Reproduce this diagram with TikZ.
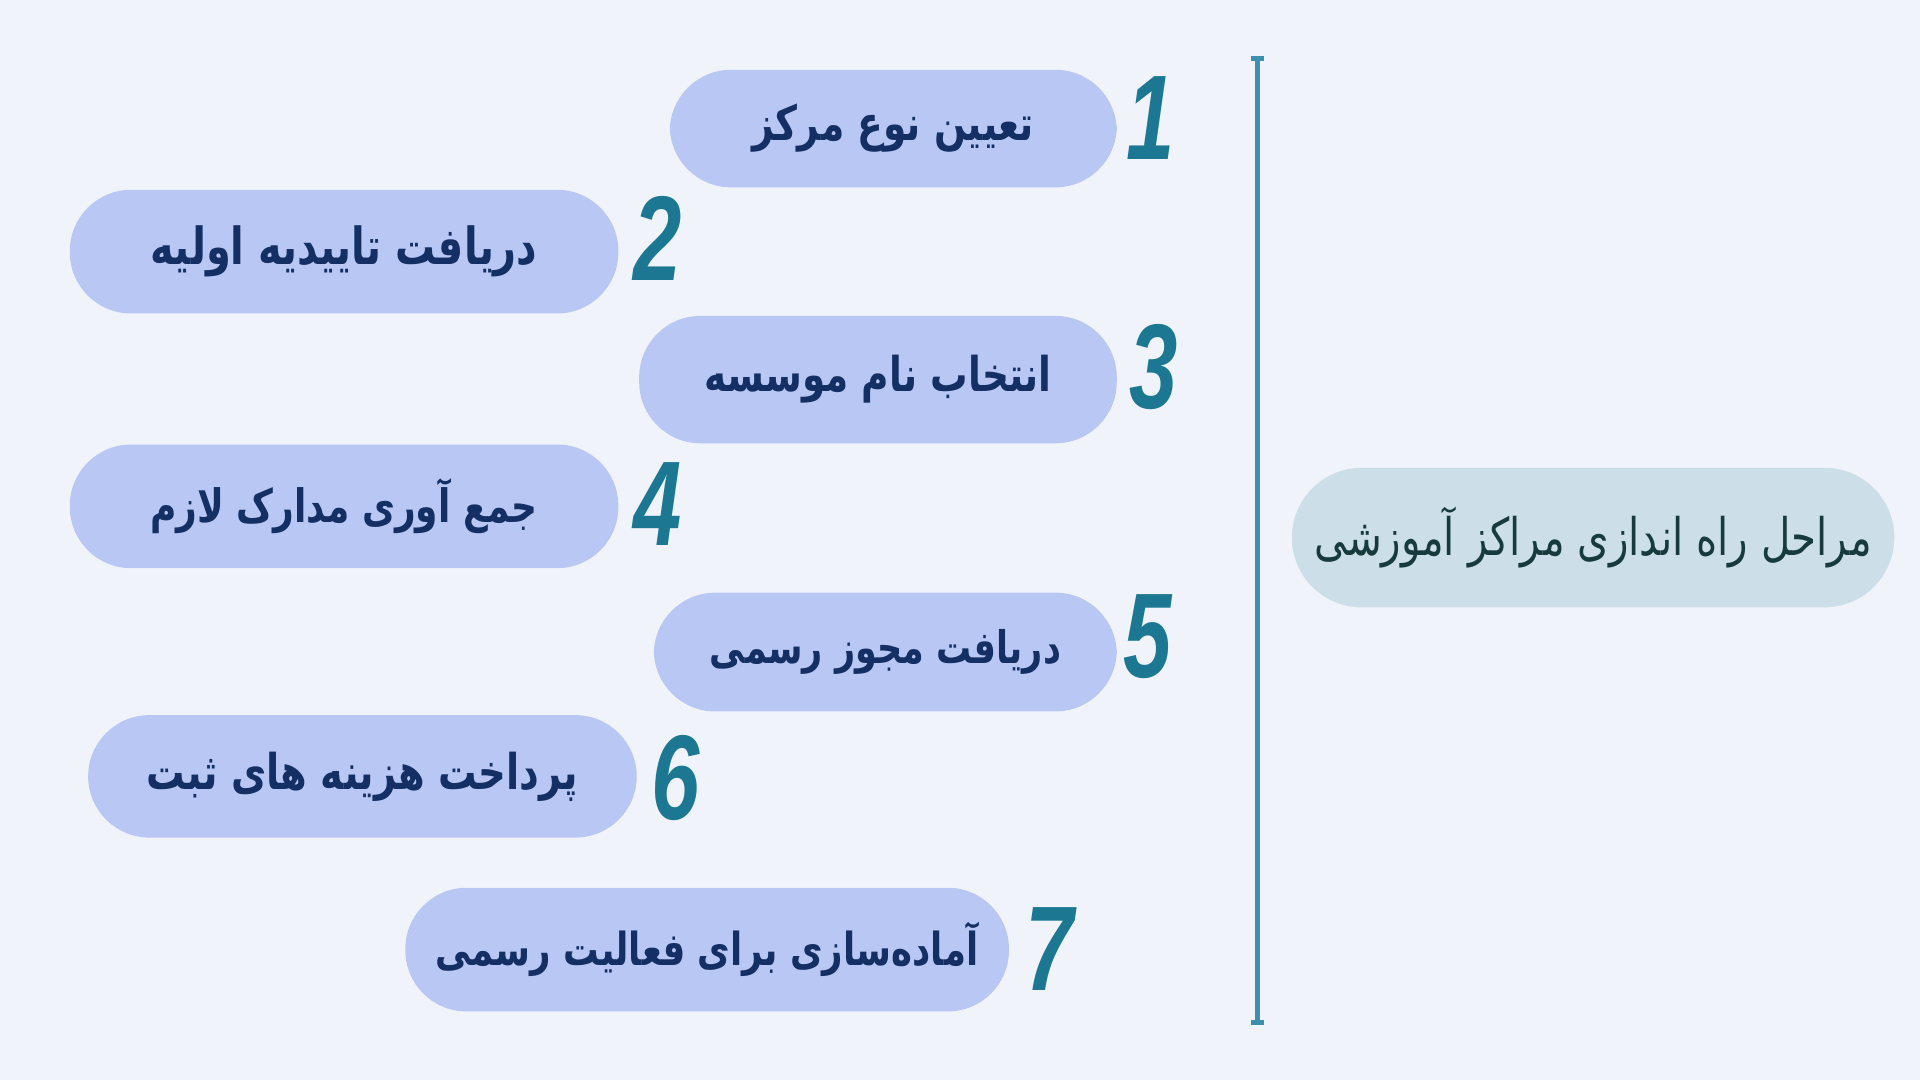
\documentclass[tikz,border=0pt]{standalone}
\usepackage{fontspec}
\usepackage{graphicx}
\setmainfont{DejaVu Sans}
\newfontfamily\arabicfont[Script=Arabic]{DejaVu Sans}
\newfontfamily\numfont{Liberation Sans}
\TeXXeTstate=1
\definecolor{bgcol}{RGB}{240,244,250}
\definecolor{pillfill}{RGB}{185,199,244}
\definecolor{titlefill}{RGB}{204,223,232}
\definecolor{pilltext}{RGB}{19,47,99}
\definecolor{titletext}{RGB}{23,58,60}
\definecolor{numcol}{RGB}{28,120,146}
\definecolor{linecol}{RGB}{61,143,174}
\newcommand{\fitbox}[2]{\scalebox{1}[1.28]{\resizebox{#1}{!}{#2}}}
\newcommand{\numtxt}[1]{\scalebox{0.72}[1]{#1}}
\tikzset{
  pill/.style={fill=pillfill, draw=none, rounded corners=0.5cm, inner sep=0pt,
    text=pilltext, font=\arabicfont\bfseries\fontsize{10}{12}\selectfont},
  titlepill/.style={fill=titlefill, draw=none, rounded corners=0.57cm, inner sep=0pt,
    minimum width=4.92cm, minimum height=1.14cm,
    text=titletext, font=\arabicfont\fontsize{10}{12}\selectfont},
  stepnum/.style={text=numcol, inner sep=0pt,
    font=\numfont\bfseries\itshape\fontsize{28}{30}\selectfont},
  sepline/.style={draw=linecol, line width=1.2pt}
}
\begin{document}
\begin{tikzpicture}
\useasboundingbox (0,0) rectangle (15.68,8.82);
\fill[bgcol] (0,0) rectangle (15.68,8.82);

% separator line
\coordinate (ltop) at (10.27,8.34);
\coordinate (lbot) at (10.27,0.47);
\draw[sepline] (ltop) -- (lbot);
\draw[sepline] ([xshift=-0.05cm]ltop) -- ([xshift=0.05cm]ltop);
\draw[sepline] ([xshift=-0.05cm]lbot) -- ([xshift=0.05cm]lbot);

% title
\node[titlepill] (title) at (13.01,4.43) {\fitbox{4.55cm}{\beginR مراحل راه اندازی مراکز آموزشی\endR}};

% steps
\node[pill, minimum width=3.65cm, minimum height=0.96cm] (s1) at (7.295,7.77) {\fitbox{2.30cm}{\beginR تعیین نوع مرکز\endR}};
\node[pill, minimum width=4.48cm, minimum height=1.01cm] (s2) at (2.81,6.765) {\fitbox{3.16cm}{\beginR دریافت تاییدیه اولیه\endR}};
\node[pill, minimum width=3.90cm, minimum height=1.04cm] (s3) at (7.17,5.72) {\fitbox{2.83cm}{\beginR انتخاب نام موسسه\endR}};
\node[pill, minimum width=4.48cm, minimum height=1.01cm] (s4) at (2.81,4.685) {\fitbox{3.16cm}{\beginR جمع آوری مدارک لازم\endR}};
\node[pill, minimum width=3.78cm, minimum height=0.97cm] (s5) at (7.23,3.495) {\fitbox{2.87cm}{\beginR دریافت مجوز رسمی\endR}};
\node[pill, minimum width=4.48cm, minimum height=1.00cm] (s6) at (2.96,2.48) {\fitbox{3.52cm}{\beginR پرداخت هزینه های ثبت\endR}};
\node[pill, minimum width=4.93cm, minimum height=1.01cm] (s7) at (5.775,1.065) {\fitbox{4.43cm}{\beginR آماده‌سازی برای فعالیت رسمی\endR}};

% numbers
\node[stepnum] (n1) at (9.40,7.86) {\numtxt{1}};
\node[stepnum] (n2) at (5.37,6.87) {\numtxt{2}};
\node[stepnum] (n3) at (9.42,5.82) {\numtxt{3}};
\node[stepnum] (n4) at (5.37,4.70) {\numtxt{4}};
\node[stepnum] (n5) at (9.37,3.62) {\numtxt{5}};
\node[stepnum] (n6) at (5.52,2.47) {\numtxt{6}};
\node[stepnum] (n7) at (8.57,1.07) {\numtxt{7}};
\end{tikzpicture}
\end{document}
